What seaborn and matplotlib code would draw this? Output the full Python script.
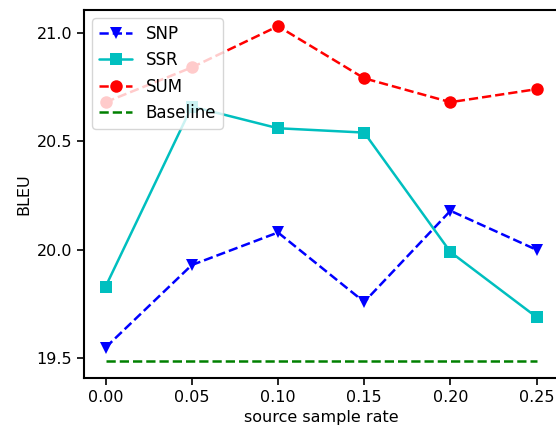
import pandas as pd
import matplotlib
matplotlib.use("Agg")
import matplotlib.pyplot as plt
import seaborn as sns

# data
rates = [0.00, 0.05, 0.10, 0.15, 0.20, 0.25]
snp = [19.55, 19.93, 20.08, 19.76, 20.18, 20.00]
ssr = [19.83, 20.66, 20.56, 20.54, 19.99, 19.69]
sum_ = [20.68, 20.84, 21.03, 20.79, 20.68, 20.74]
baseline = [19.49] * len(rates)

sns.set_style("ticks")
plt.rcParams["font.family"] = ["DejaVu Sans"]
plt.rcParams["font.size"] = 11.5
for k in ["text.color", "axes.labelcolor", "xtick.color", "ytick.color"]:
    plt.rcParams[k] = "black"

fig = plt.figure(figsize=(5.56, 4.3), dpi=100)
ax = fig.add_axes([0.151, 0.121, 0.853, 0.856])

sns.lineplot(x=rates, y=snp, ax=ax, color="b", linestyle="--", marker="v",
             markersize=9, linewidth=1.8, markeredgewidth=0, label="SNP")
sns.lineplot(x=rates, y=ssr, ax=ax, color="c", linestyle="-", marker="s",
             markersize=8, linewidth=1.8, markeredgewidth=0, label="SSR")
sns.lineplot(x=rates, y=sum_, ax=ax, color="r", linestyle="--", marker="o",
             markersize=9, linewidth=1.8, markeredgewidth=0, label="SUM")
sns.lineplot(x=rates, y=baseline, ax=ax, color="g", linestyle="--",
             linewidth=1.8, label="Baseline")

ax.set_xlim(-0.0125, 0.2625)
ax.set_ylim(19.41, 21.105)
ax.set_xticks(rates)
ax.set_xticklabels([f"{r:.2f}" for r in rates])
ax.set_yticks([19.5, 20.0, 20.5, 21.0])
ax.set_yticklabels(["19.5", "20.0", "20.5", "21.0"])
ax.set_xlabel("source sample rate", fontsize=11.5)
ax.set_ylabel("BLEU", fontsize=11.5)
for s in ax.spines.values():
    s.set_linewidth(1.5)
    s.set_color("black")
ax.tick_params(width=1.2, length=5, colors="black", labelsize=11.5)

ax.legend(loc="upper left", fontsize=12, framealpha=0.8, borderpad=0.4)

plt.savefig("out.png", dpi=100)
plt.close()
